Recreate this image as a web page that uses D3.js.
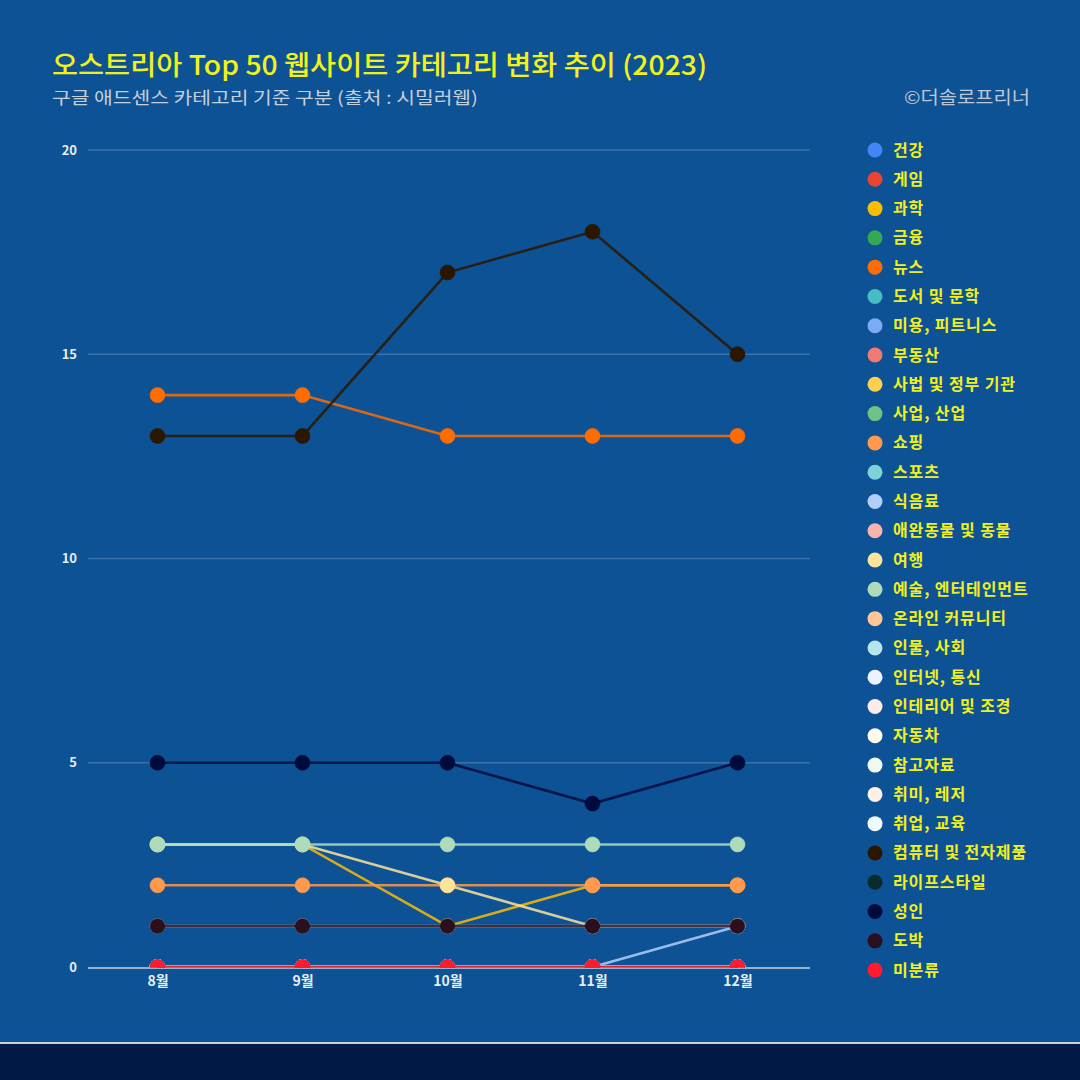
<!DOCTYPE html>
<html><head><meta charset="utf-8">
<script src="https://cdn.jsdelivr.net/npm/d3@7"></script>
<style>
html,body{margin:0;padding:0;background:#0d5294;}
svg{display:block;}
text{font-family:"Noto Sans CJK KR","Noto Sans",sans-serif;}
</style></head><body>
<svg id="chart" width="1080" height="1080"></svg>
<script>
const months = ["8월","9월","10월","11월","12월"];
const yTicks = [0,5,10,15,20];
const categories = ["건강","게임","과학","금융","뉴스","도서 및 문학","미용, 피트니스","부동산","사법 및 정부 기관","사업, 산업","쇼핑","스포츠","식음료","애완동물 및 동물","여행","예술, 엔터테인먼트","온라인 커뮤니티","인물, 사회","인터넷, 통신","인테리어 및 조경","자동차","참고자료","취미, 레저","취업, 교육","컴퓨터 및 전자제품","라이프스타일","성인","도박","미분류"];
const colors = ["#4285f4","#ea4335","#fbbc04","#34a853","#ff6d01","#46bdc6","#7baaf7","#f07b72","#fcd04f","#71c287","#ff994d","#7ed1d7","#b3cefb","#f7b4ae","#fde49b","#aedcba","#ffc599","#b5e5e8","#ecf3fe","#fdeceb","#fffaeb","#eff8f1","#fff0e6","#f0fafb","#2b1700","#0a2b2b","#000b3d","#2a0f1f","#ff1a2f"];
const values = [
 [0,0,0,0,0],
 [0,0,0,0,0],
 [3,3,1,2,2],
 [0,0,0,0,0],
 [14,14,13,13,13],
 [0,0,0,0,0],
 [0,0,0,0,0],
 [0,0,0,0,0],
 [0,0,0,0,0],
 [0,0,0,0,0],
 [2,2,2,2,2],
 [0,0,0,0,0],
 [0,0,0,0,1],
 [0,0,0,0,0],
 [3,3,2,1,1],
 [3,3,3,3,3],
 [0,0,0,0,0],
 [0,0,0,0,0],
 [1,1,1,1,1],
 [0,0,0,0,0],
 [0,0,0,0,0],
 [0,0,0,0,0],
 [0,0,0,0,0],
 [0,0,0,0,0],
 [13,13,17,18,15],
 [0,0,0,0,0],
 [5,5,5,4,5],
 [1,1,1,1,1],
 [0,0,0,0,0]
];

const svg = d3.select("#chart");
svg.append("rect").attr("x",0).attr("y",0).attr("width",1080).attr("height",1080).attr("fill","#0d5294");
svg.append("rect").attr("x",0).attr("y",1044).attr("width",1080).attr("height",36).attr("fill","#001a46");
svg.append("rect").attr("x",0).attr("y",1042).attr("width",1080).attr("height",2).attr("fill","#c9d3e0");

svg.append("text").attr("x",52).attr("y",75).attr("fill","#f2f21a")
  .attr("font-size",27).attr("font-weight",500)
  .attr("textLength",655).attr("lengthAdjust","spacingAndGlyphs")
  .text("오스트리아 Top 50 웹사이트 카테고리 변화 추이 (2023)");
svg.append("text").attr("x",52).attr("y",104).attr("fill","#c5cfdc")
  .attr("font-size",17)
  .attr("textLength",426).attr("lengthAdjust","spacingAndGlyphs")
  .text("구글 애드센스 카테고리 기준 구분 (출처 : 시밀러웹)");
svg.append("text").attr("x",904).attr("y",104).attr("fill","#bcc6d4")
  .attr("font-size",18)
  .attr("textLength",126).attr("lengthAdjust","spacingAndGlyphs")
  .text("©더솔로프리너");

const x = d3.scalePoint().domain(months).range([85,810]).padding(0.5);
const y = d3.scaleLinear().domain([0,20]).range([967,150]);

svg.append("clipPath").attr("id","plotclip").append("rect")
  .attr("x",0).attr("y",100).attr("width",840).attr("height",867.5);

const g = svg.append("g");
g.selectAll("line.grid").data(yTicks.filter(d=>d>0)).join("line")
  .attr("x1",88).attr("x2",810).attr("y1",d=>y(d)).attr("y2",d=>y(d))
  .attr("stroke","#3a72ad").attr("stroke-width",1.5);
const yAxis = d3.axisLeft(y).tickValues(yTicks).tickSize(0).tickPadding(0);
const ya = svg.append("g").attr("transform","translate(77,0)").call(yAxis);
ya.select(".domain").remove();
ya.selectAll("text").attr("fill","#e8edf3").attr("font-size",13).attr("font-weight",700)
  .attr("font-family","'Noto Sans','DejaVu Sans',sans-serif");
const xAxis = d3.axisBottom(x).tickSize(0).tickPadding(9);
const xa = svg.append("g").attr("transform","translate(0,967)").call(xAxis);
xa.select(".domain").remove();
xa.selectAll("text").attr("fill","#e8edf3").attr("font-size",14).attr("font-weight",700);
svg.append("line").attr("x1",88).attr("x2",810).attr("y1",968).attr("y2",968)
  .attr("stroke","#c8d2de").attr("stroke-width",1.5);

const line = d3.line().x((d,i)=>x(months[i])).y(d=>y(d));
const plot = svg.append("g").attr("clip-path","url(#plotclip)");
categories.forEach((c,k)=>{
  const s = plot.append("g");
  s.append("path").attr("d",line(values[k])).attr("fill","none")
    .attr("stroke",colors[k]).attr("stroke-width",2.6).attr("stroke-opacity",0.85);
  s.selectAll("circle").data(values[k]).join("circle")
    .attr("cx",(d,i)=>x(months[i])).attr("cy",d=>y(d)).attr("r",7.5)
    .attr("fill",colors[k]).attr("stroke",colors[k]).attr("stroke-opacity",0.6).attr("stroke-width",1);
});

const lg = svg.append("g");
categories.forEach((c,k)=>{
  const ly = 150 + k*29.29;
  lg.append("circle").attr("cx",875).attr("cy",ly).attr("r",7.5).attr("fill",colors[k]);
  lg.append("text").attr("x",893).attr("y",ly+5.5).attr("fill","#f0f01e")
    .attr("font-size",16).attr("font-weight",700).attr("letter-spacing",0.9).text(c);
});
</script></body></html>
